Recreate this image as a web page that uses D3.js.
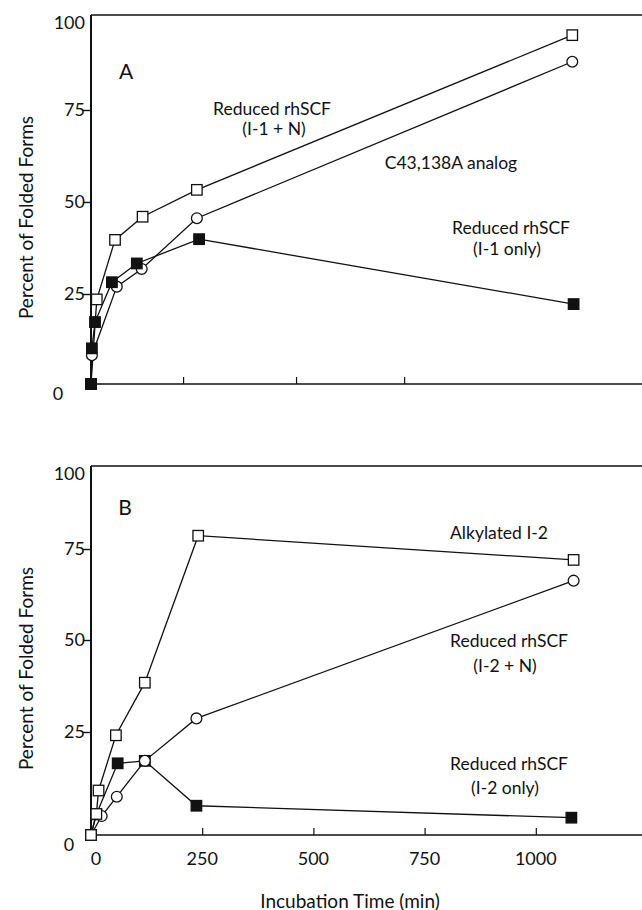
<!DOCTYPE html>
<html>
<head>
<meta charset="utf-8">
<script src="https://cdn.jsdelivr.net/npm/d3@7/dist/d3.min.js"></script>
<style>
  html, body { margin: 0; padding: 0; background: #fff; }
  svg { display: block; }
  text { font-family: Lato, "Open Sans", sans-serif; fill: #111; }
</style>
</head>
<body>
<svg id="chart" width="642" height="910"></svg>
<script>
// ---------- DATA ----------
const yTickValues = [0, 25, 50, 75, 100];
const xTickValuesB = [0, 250, 500, 750, 1000];
const xTickLabelsB = ["0", "250", "500", "750", "1000"];
const xTickValuesA = [207, 461, 704];   // unlabeled ticks in panel A

// Panel A
const aOpenSqT   = [0, 13, 54, 116, 238, 1082];
const aOpenSqV   = [0, 23.5, 39.7, 46.0, 53.3, 94.7];
const aCircleT   = [0, 2, 58, 114, 238, 1082];
const aCircleV   = [0, 8.0, 27.0, 31.8, 45.6, 87.7];
const aFilledT   = [0, 2, 9, 47, 103, 243, 1085];
const aFilledV   = [0, 9.9, 17.2, 28.2, 33.3, 39.9, 22.2];

// Panel B
const bOpenSqT   = [0, 12, 17, 56, 121, 241, 1085];
const bOpenSqV   = [0, 5.1, 10.8, 24.2, 38.4, 79.0, 72.0];
const bCircleT   = [0, 24, 58, 121, 237, 1085];
const bCircleV   = [0, 4.6, 9.3, 18.0, 28.7, 66.3];
const bFilledT   = [0, 12, 60, 121, 237, 1080];
const bFilledV   = [0, 5.0, 17.4, 18.0, 7.1, 4.2];

const labelsA = [
  {t: "A", x: 126, y: 70, size: 21},
  {t: "Reduced rhSCF", x: 272, y: 108, size: 17.5},
  {t: "(I-1 + N)", x: 274, y: 128, size: 17.5},
  {t: "C43,138A analog", x: 451, y: 162, size: 17.5},
  {t: "Reduced rhSCF", x: 511, y: 227, size: 17.5},
  {t: "(I-1 only)", x: 507, y: 248, size: 17.5}
];
const labelsB = [
  {t: "B", x: 125, y: 506, size: 21},
  {t: "Alkylated I-2", x: 499, y: 532, size: 17.5},
  {t: "Reduced rhSCF", x: 509, y: 640, size: 17.5},
  {t: "(I-2 + N)", x: 505, y: 665, size: 17.5},
  {t: "Reduced rhSCF", x: 509, y: 763, size: 17.5},
  {t: "(I-2 only)", x: 505, y: 787, size: 17.5}
];

// ---------- SCALES ----------
const svg = d3.select("#chart");
const x = d3.scaleLinear().domain([0, 1250]).range([91, 647]);
const yA = d3.scaleLinear().domain(yTickValues).range([384, 294, 202, 110, 15]);
const yB = d3.scaleLinear().domain(yTickValues).range([835, 732, 640, 549, 466]);

const zip = (ts, vs) => ts.map((t, i) => ({t, v: vs[i]}));

function drawPanel(y, xTicks, series, labels, showXLabels, zeroLabelX) {
  const g = svg.append("g");
  const top = y(100), bottom = y(0), left = x(0);

  g.append("line").attr("x1", left).attr("x2", 642).attr("y1", top).attr("y2", top)
    .attr("stroke", "#111").attr("stroke-width", 1.6);

  const yAxis = d3.axisLeft(y).tickValues([25, 50, 75]).tickSize(8).tickFormat("");
  const ya = g.append("g").attr("transform", `translate(${left},0)`).call(yAxis);
  ya.select(".domain").remove();
  ya.selectAll(".tick line").attr("stroke", "#111").attr("stroke-width", 1.4);
  g.append("line").attr("x1", left).attr("x2", left).attr("y1", top).attr("y2", bottom)
    .attr("stroke", "#111").attr("stroke-width", 2);

  const xAxis = d3.axisBottom(x).tickValues(xTicks).tickSize(-7).tickFormat("");
  const xa = g.append("g").attr("transform", `translate(0,${bottom})`).call(xAxis);
  xa.select(".domain").remove();
  xa.selectAll(".tick line").attr("stroke", "#111").attr("stroke-width", 1.2);
  xa.selectAll(".tick").filter(d => d === 0).remove();
  g.append("line").attr("x1", left).attr("x2", 642).attr("y1", bottom).attr("y2", bottom)
    .attr("stroke", "#111").attr("stroke-width", 1.6);

  yTickValues.forEach(v => {
    let ty = y(v) + 6, tx = 85, anchor = "end";
    if (v === 100) ty = top + 14;
    if (v === 0) { ty = bottom + 16; tx = zeroLabelX; anchor = "middle"; }
    g.append("text").attr("x", tx).attr("y", ty).attr("text-anchor", anchor)
      .attr("font-size", 18).text(String(v));
  });

  if (showXLabels) {
    xTickValuesB.forEach((v, i) => {
      g.append("text").attr("x", x(v) + (v === 0 ? 5 : 0)).attr("y", bottom + 30)
        .attr("text-anchor", "middle").attr("font-size", 18).text(xTickLabelsB[i]);
    });
  }

  g.append("text")
    .attr("transform", `translate(33,${(top + bottom) / 2 + 18}) rotate(-90)`)
    .attr("text-anchor", "middle").attr("font-size", 19).text("Percent of Folded Forms");

  const line = d3.line().x(d => x(d.t)).y(d => y(d.v));
  series.forEach(s => {
    g.append("path").datum(s.data).attr("d", line)
      .attr("fill", "none").attr("stroke", "#111").attr("stroke-width", 1.3);
  });

  const sz = 10.5;
  series.forEach(s => {
    const m = g.append("g");
    s.data.forEach(d => {
      if (s.type === "circle") {
        m.append("circle").attr("cx", x(d.t)).attr("cy", y(d.v)).attr("r", 5.4)
          .attr("fill", "#fff").attr("stroke", "#111").attr("stroke-width", 1.3);
      } else {
        m.append("rect").attr("x", x(d.t) - sz / 2).attr("y", y(d.v) - sz / 2)
          .attr("width", sz).attr("height", sz)
          .attr("fill", s.type === "filled" ? "#111" : "#fff")
          .attr("stroke", "#111").attr("stroke-width", 1.3);
      }
    });
  });

  labels.forEach(l => {
    g.append("text").attr("x", l.x).attr("y", l.y).attr("text-anchor", "middle")
      .attr("dominant-baseline", "central").attr("font-size", l.size).text(l.t);
  });
}

drawPanel(yA, xTickValuesA, [
  {type: "open", data: zip(aOpenSqT, aOpenSqV)},
  {type: "circle", data: zip(aCircleT, aCircleV)},
  {type: "filled", data: zip(aFilledT, aFilledV)}
], labelsA, false, 58);

drawPanel(yB, xTickValuesB, [
  {type: "filled", data: zip(bFilledT, bFilledV)},
  {type: "circle", data: zip(bCircleT, bCircleV)},
  {type: "open", data: zip(bOpenSqT, bOpenSqV)}
], labelsB, true, 69);

svg.append("text").attr("x", 350).attr("y", 900).attr("text-anchor", "middle")
  .attr("dominant-baseline", "central").attr("font-size", 19).text("Incubation Time (min)");
</script>
</body>
</html>
